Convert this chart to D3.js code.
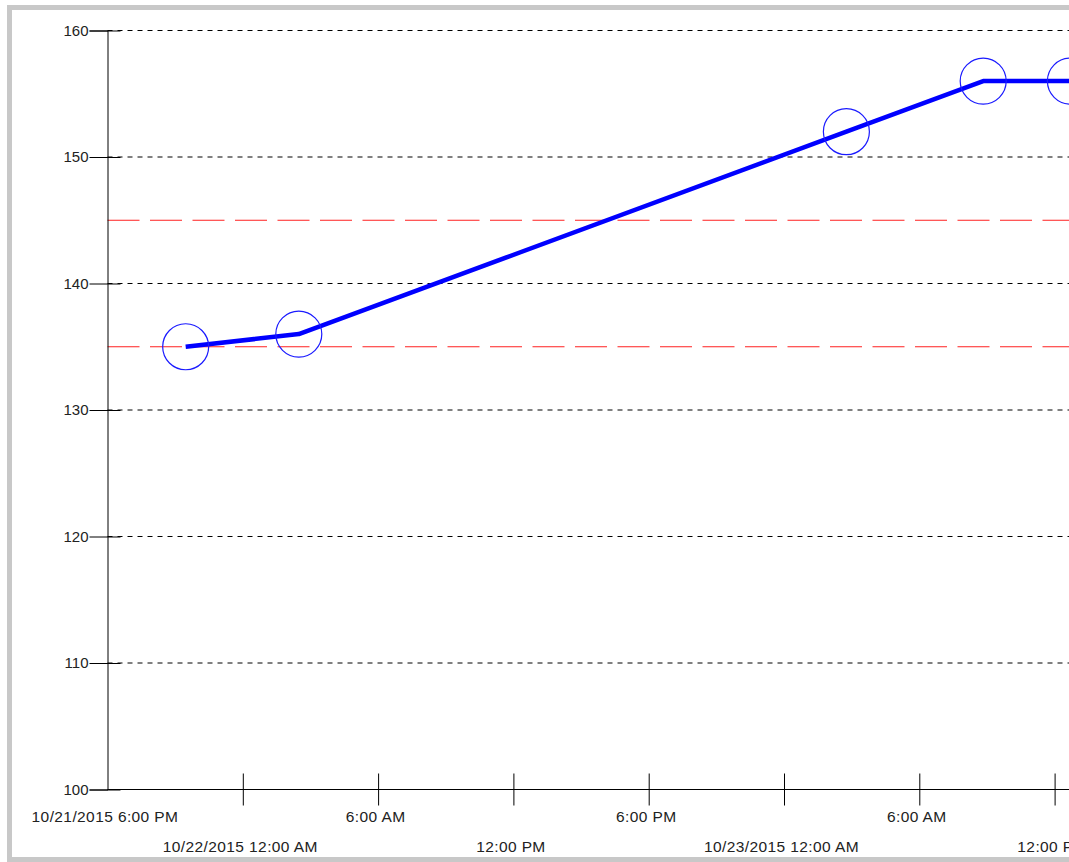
<!DOCTYPE html>
<html><head><meta charset="utf-8">
<script src="https://cdn.jsdelivr.net/npm/d3@7"></script>
<style>html,body{margin:0;padding:0;background:#fff;overflow:hidden}svg{display:block}</style>
</head><body>
<script>
const times = ["2015-10-21T21:28","2015-10-22T02:29","2015-10-23T02:46","2015-10-23T08:50","2015-10-23T12:42"];
const values = [135, 136, 152, 156, 156];
const limitLines = [135, 145];
const yTicks = [100, 110, 120, 130, 140, 150, 160];
const xTickLabels = ["10/21/2015 6:00 PM","10/22/2015 12:00 AM","6:00 AM","12:00 PM","6:00 PM","10/23/2015 12:00 AM","6:00 AM","12:00 PM"];

const W = 1069, H = 862;
const parse = d3.timeParse("%Y-%m-%dT%H:%M");
const data = times.map((t,i)=>({t:parse(t), v:values[i]}));
const t0 = parse("2015-10-21T18:00"), t1 = parse("2015-10-23T18:00");
const x0 = 107.5;
const x = d3.scaleTime().domain([t0,t1]).range([x0, x0 + 48*22.55]);
const y = d3.scaleLinear().domain([100,160]).range([789.5,30.5]);

const svg = d3.select("body").append("svg").attr("width",W).attr("height",H);
svg.append("rect").attr("width",W).attr("height",H).attr("fill","#fff");
svg.append("rect").attr("x",9.5).attr("y",7.5).attr("width",W+20).attr("height",852)
  .attr("fill","none").attr("stroke","#c8c8c8").attr("stroke-width",5);

const font = "'Liberation Sans', Arial, sans-serif";

// grid lines
svg.append("g").selectAll("line").data(yTicks.filter(d=>d>100)).join("line")
  .attr("x1",x0).attr("x2",W).attr("y1",d=>y(d)).attr("y2",d=>y(d))
  .attr("stroke","#000").attr("stroke-width",1).attr("stroke-dasharray","5,5");

// limit lines
svg.append("g").selectAll("line").data(limitLines).join("line")
  .attr("x1",x0).attr("x2",W).attr("y1",d=>y(d)).attr("y2",d=>y(d))
  .attr("stroke","#ff2020").attr("stroke-width",1).attr("stroke-dasharray","32,10.5");

// y axis
const yAxis = svg.append("g").attr("transform",`translate(${x0},0)`)
  .call(d3.axisLeft(y).tickValues(yTicks).tickSize(18).tickPadding(1).tickFormat(d3.format("d")));
yAxis.select(".domain").attr("stroke","#000");
yAxis.selectAll(".tick line").attr("x2",-18).attr("x1",13).attr("stroke","#000");
yAxis.selectAll(".tick text").attr("font-family",font).attr("font-size","15px").attr("fill","#222");

// x axis
const xTicks = d3.timeHour.every(6).range(t0, d3.timeHour.offset(t1,1));
const xAxis = svg.append("g").attr("transform","translate(0,789.5)")
  .call(d3.axisBottom(x).tickValues(xTicks).tickSize(0).tickFormat((d,i)=>xTickLabels[i]||""));
xAxis.select(".domain").attr("stroke","#000").attr("d",`M${x0},0H${W+10}`);
xAxis.selectAll(".tick line").attr("y1",-16).attr("y2",16).attr("stroke","#000");
xAxis.selectAll(".tick line").filter((d,i)=>i===0).remove();
xAxis.selectAll(".tick text").attr("font-family",font).attr("font-size","15.5px").attr("fill","#222")
  .attr("letter-spacing","0.4px")
  .attr("dy",null).attr("x",-3).attr("y",(d,i)=> i%2===0 ? 32.5 : 62.5);

// series line
svg.append("path").datum(data)
  .attr("d", d3.line().x(d=>x(d.t)).y(d=>y(d.v)))
  .attr("fill","none").attr("stroke","#0000ff").attr("stroke-width",4.5).attr("stroke-linejoin","round");

// markers
svg.append("g").selectAll("circle").data(data).join("circle")
  .attr("cx",d=>x(d.t)).attr("cy",d=>y(d.v)).attr("r",23)
  .attr("fill","none").attr("stroke","#1a1aff").attr("stroke-width",1.2);
</script>
</body></html>
